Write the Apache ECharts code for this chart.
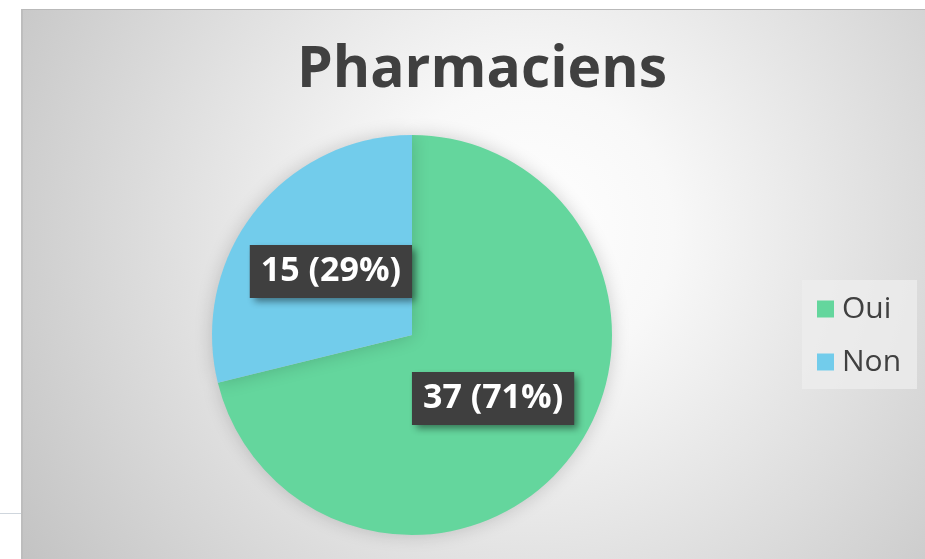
<!DOCTYPE html>
<html>
<head>
<meta charset="utf-8">
<script src="https://cdn.jsdelivr.net/npm/echarts@6/dist/echarts.min.js"></script>
<style>
  html, body { margin: 0; padding: 0; background: #fff; }
  #frame {
    position: absolute; left: 21px; top: 9px; width: 904px; height: 550px;
    box-sizing: border-box;
    border-top: 1px solid #b9b9b9; border-left: 2px solid #bdbdbd;
    background: radial-gradient(circle farthest-corner at 56% 40%, #ffffff 0%, #f8f8f8 24%, #c3c3c3 100%);
  }
  #tick { position: absolute; left: 0; top: 513px; width: 21px; height: 1px; background: #cfd6dd; }
  #chart { position: absolute; left: 0; top: 0; width: 925px; height: 559px; }
</style>
</head>
<body>
<div id="frame"></div>
<div id="tick"></div>
<div id="chart"></div>
<script>
// Pharmaciens — réponses Oui / Non
var titleText = 'Pharmaciens';
var categories = ['Oui', 'Non'];
var counts = [37, 15];
var colors = ['#64d69d', '#72cceb'];

(function() {
  var ink = '#404040';
  var chart = echarts.init(document.getElementById('chart'), null, { renderer: 'canvas' });

  var seriesData = categories.map(function(name, i) {
    return { name: name, value: counts[i], itemStyle: { color: colors[i] } };
  });

  chart.setOption({
    animation: false,
    backgroundColor: 'transparent',
    title: {
      text: titleText,
      left: 477, top: 37, textAlign: 'center',
      textStyle: { fontFamily: 'Open Sans', fontWeight: 'bold', fontSize: 57, color: ink }
    },
    legend: {
      orient: 'vertical',
      left: 802, top: 280,
      padding: [14, 16, 12, 15],
      backgroundColor: 'rgba(238,238,238,0.75)',
      icon: 'rect',
      itemWidth: 17, itemHeight: 17,
      itemGap: 23,
      data: categories,
      textStyle: { fontFamily: 'Open Sans', fontSize: 30, lineHeight: 30, color: ink, padding: [0, 0, 0, 3] }
    },
    series: [{
      type: 'pie',
      center: [412, 335],
      radius: 200,
      startAngle: 90,
      clockwise: true,
      data: seriesData,
      itemStyle: { shadowBlur: 18, shadowColor: 'rgba(0,0,0,0.18)' },
      label: {
        show: true,
        position: 'inside',
        formatter: function(p) { return p.value + ' (' + Math.round(p.percent) + '%)'; },
        fontFamily: 'Open Sans', fontWeight: 'bold', fontSize: 34, lineHeight: 40,
        color: '#ffffff',
        backgroundColor: '#3f3f3f',
        padding: [6, 11, 7, 11],
        shadowColor: 'rgba(0,0,0,0.45)', shadowBlur: 7, shadowOffsetX: 4, shadowOffsetY: 4
      },
      labelLine: { show: false },
      emphasis: { disabled: true }
    }]
  });

  window.addEventListener('resize', function() { chart.resize(); });
})();
</script>
</body>
</html>
